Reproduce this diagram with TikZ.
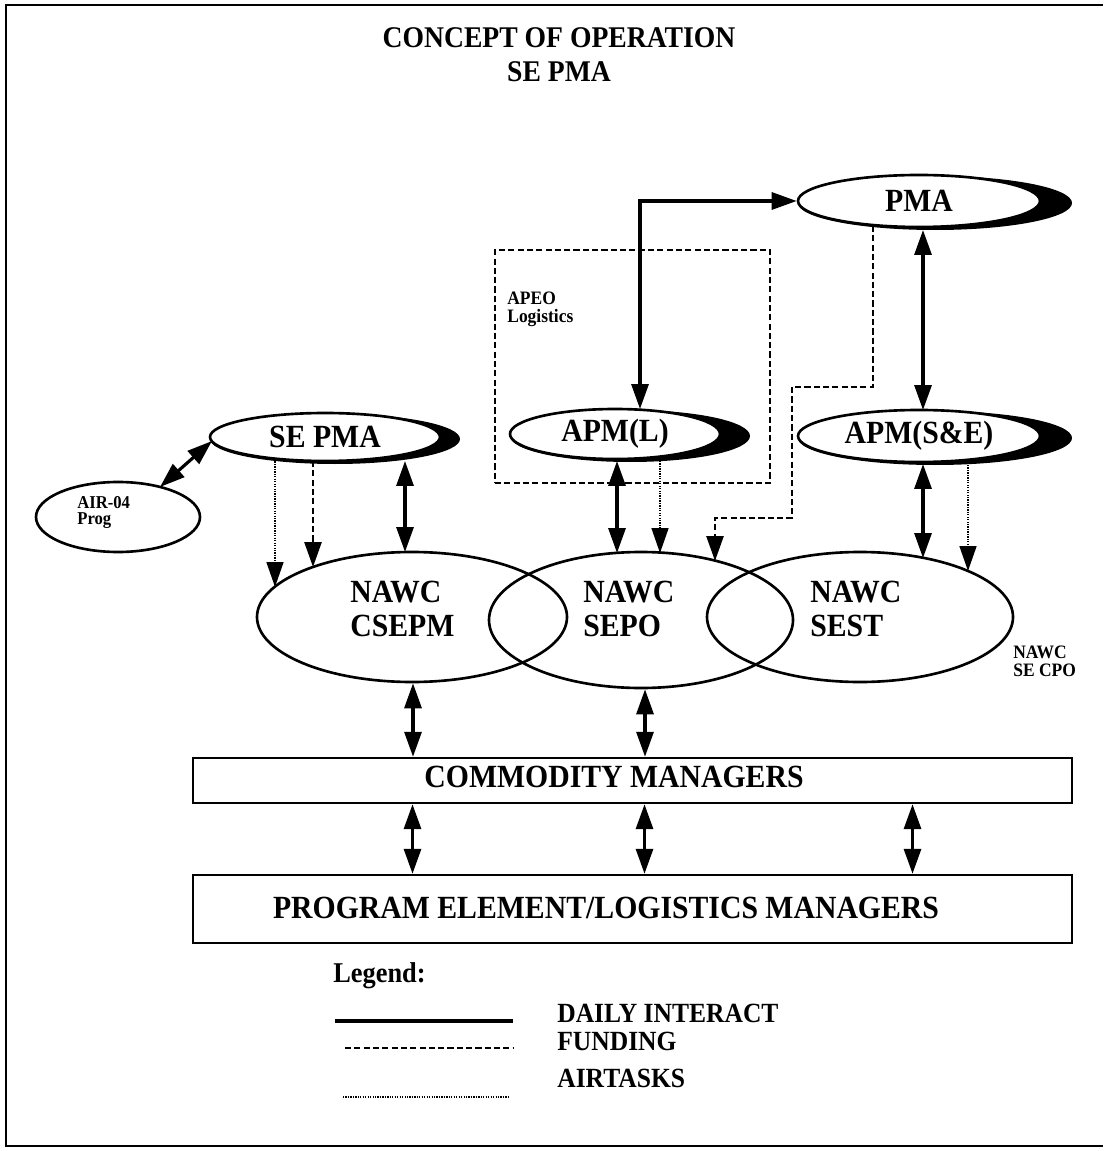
\documentclass[tikz,border=0pt]{standalone}
\usepackage{fontspec}
\setmainfont{Liberation Serif}[FakeStretch=0.92]
\usetikzlibrary{shapes.geometric,arrows.meta,calc,backgrounds}
\def\pxu{0.02cm}
\tikzset{
  Hd/.tip={Triangle[length=0.5cm,width=0.34cm]},
  oval/.style={ellipse, draw, fill=white, line width=1.5pt, inner sep=0pt},
  nawc/.style={ellipse, draw, line width=1.5pt, inner sep=0pt},
  box/.style={rectangle, draw, line width=1.4pt, inner sep=0pt},
  daily/.style={line width=1.8pt},
  dbl/.style={daily, Hd-Hd},
  funding/.style={line width=1.5pt, dash pattern=on 3.5pt off 1.8pt},
  airtask/.style={line width=0.9pt, dash pattern=on 0.7pt off 0.7pt},
  lab/.style={font=\bfseries\fontsize{18.4}{19}\selectfont},
  small/.style={font=\bfseries\fontsize{10.8}{10.2}\selectfont, align=left, inner sep=0pt},
}
\begin{document}
\begin{tikzpicture}[x=0.02cm,y=-0.02cm]
\useasboundingbox (0,0) rectangle (1103,1151);
% frame
\draw[line width=1.1pt] (1103,5) -- (6,5) -- (6,1146) -- (1103,1146);

% title
\node[font=\bfseries\fontsize{17.1}{19.4}\selectfont, align=center] (title) at (559,55) {CONCEPT OF OPERATION\\SE PMA};

% upper ovals
\node[oval, lab, minimum width=242*\pxu, minimum height=52*\pxu] (pma) at (919,201) {PMA};
\node[oval, lab, minimum width=242*\pxu, minimum height=52*\pxu] (apmse) at (919,436) {APM(S\&E)};
\node[oval, lab, minimum width=210*\pxu, minimum height=50*\pxu] (apml) at (615,434) {APM(L)};
\node[oval, lab, minimum width=230*\pxu, minimum height=48*\pxu] (sepma) at (325,437) {SE PMA};
\node[oval, minimum width=164*\pxu, minimum height=70*\pxu] (air) at (118,517) {};
\node[small, anchor=west, font=\bfseries\fontsize{10.3}{9.1}\selectfont] (airtxt) at (77,512) {AIR-04\\Prog};

\begin{scope}[on background layer]
  \fill ($(pma.center)+(16,2)$) ellipse [x radius=137*\pxu, y radius=27*\pxu];
  \fill ($(apmse.center)+(16,2)$) ellipse [x radius=137*\pxu, y radius=27*\pxu];
  \fill ($(apml.center)+(15,2)$) ellipse [x radius=120*\pxu, y radius=26*\pxu];
  \fill ($(sepma.center)+(10,2)$) ellipse [x radius=125*\pxu, y radius=25*\pxu];
\end{scope}

% APEO box
\node[draw, funding, inner sep=0pt, minimum width=275*\pxu, minimum height=233*\pxu] (apeo) at (632.5,366.5) {};
\node[small, anchor=north west] (apeotxt) at (507,292) {APEO\\Logistics};

% NAWC ovals
\node[nawc, minimum width=310*\pxu, minimum height=130*\pxu] (csepm) at (412,617) {};
\node[nawc, minimum width=304*\pxu, minimum height=136*\pxu] (sepo) at (641,620) {};
\node[nawc, minimum width=306*\pxu, minimum height=130*\pxu] (sest) at (860,617) {};
\node[lab, align=left, anchor=west, inner sep=0pt] (csepmtxt) at (350,609) {NAWC\\CSEPM};
\node[lab, align=left, anchor=west, inner sep=0pt] (sepotxt) at (583,609) {NAWC\\SEPO};
\node[lab, align=left, anchor=west, inner sep=0pt] (sesttxt) at (810,609) {NAWC\\SEST};
\node[small, anchor=west] (cpotxt) at (1013,661) {NAWC\\SE CPO};

% manager boxes
\node[box, minimum width=879*\pxu, minimum height=45*\pxu] (comm) at (632.5,780.5) {};
\node[lab] (commtxt) at (614,777) {COMMODITY MANAGERS};
\node[box, minimum width=879*\pxu, minimum height=68*\pxu] (prog) at (632.5,909) {};
\node[lab] (progtxt) at (606,908) {PROGRAM ELEMENT/LOGISTICS MANAGERS};

% connectors
\draw[dbl] ($(sepma.center)+(-113,4)$) -- ($(air.center)+(42,-30)$);
\draw[airtask,-Hd] ($(sepma.center)+(-50,22)$) -- ($(csepm.center)+(-137,-30)$);
\draw[funding,-Hd] ($(sepma.center)+(-12,24)$) -- ($(csepm.center)+(-99,-50)$);
\draw[dbl] ($(sepma.center)+(80,24)$) -- ($(csepm.center)+(-7,-65)$);

\draw[dbl] (pma.west) -| ($(apml.center)+(25,-25)$);
\draw[funding,-Hd] ($(pma.center)+(-46,25)$) |- (792,387) |- (715,518) -- ($(sepo.center)+(74,-59)$);
\draw[dbl] ($(pma.center)+(4,29)$) -- ($(apmse.center)+(4,-26)$);

\draw[dbl] ($(apml.center)+(2,27)$) -- ($(sepo.center)+(-24,-67)$);
\draw[airtask,-Hd] ($(apml.center)+(45,27)$) -- ($(sepo.center)+(19,-67)$);

\draw[dbl] ($(apmse.center)+(4,28)$) -- ($(sest.center)+(63,-59)$);
\draw[airtask,-Hd] ($(apmse.center)+(49,29)$) -- ($(sest.center)+(108,-46)$);

\coordinate (c1) at ($(csepm.south)+(1,0)$);
\coordinate (c2) at ($(sepo.south)+(4,0)$);
\draw[dbl] (c1) -- (c1 |- comm.north);
\draw[dbl] (c2) -- (c2 |- comm.north);
\foreach \dx in {-220,12,280}
  \draw[dbl] ($(comm.south)+(\dx,0)$) -- ($(prog.north)+(\dx,0)$);

% legend
\node[font=\bfseries\fontsize{16.3}{18}\selectfont, anchor=base west, inner sep=0pt] (legend) at (333,982) {Legend:};
\coordinate (l1a) at (335,1021); \coordinate (l1b) at (513,1021);
\coordinate (l2a) at (345,1048); \coordinate (l2b) at (513,1048);
\coordinate (l3a) at (343,1097); \coordinate (l3b) at (508,1097);
\draw[daily] (l1a) -- (l1b);
\draw[funding] (l2a) -- (l2b);
\draw[airtask] (l3a) -- (l3b);
\node[font=\bfseries\fontsize{15.8}{18}\selectfont, anchor=base west, inner sep=0pt] (daily) at (557,1022) {DAILY INTERACT};
\node[font=\bfseries\fontsize{15.8}{18}\selectfont, anchor=base west, inner sep=0pt] (fund) at (557,1050) {FUNDING};
\node[font=\bfseries\fontsize{15.8}{18}\selectfont, anchor=base west, inner sep=0pt] (airt) at (557,1087) {AIRTASKS};
\end{tikzpicture}
\end{document}
